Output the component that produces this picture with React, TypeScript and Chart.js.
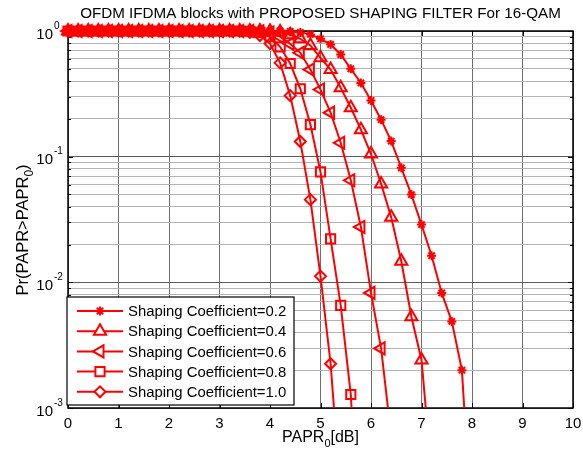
import React, { useEffect, useRef } from 'react';
import { Chart, registerables } from 'chart.js';
import { drawPoint } from 'chart.js/helpers';

Chart.register(...registerables);

// PAPR0 grid [dB]
const papr = [
  0, 0.2, 0.4, 0.6, 0.8, 1.0, 1.2, 1.4, 1.6, 1.8,
  2.0, 2.2, 2.4, 2.6, 2.8, 3.0, 3.2, 3.4, 3.6, 3.8,
  4.0, 4.2, 4.4, 4.6, 4.8, 5.0, 5.2, 5.4, 5.6, 5.8,
  6.0, 6.2, 6.4, 6.6, 6.8, 7.0, 7.2, 7.4, 7.6, 7.8, 8.0,
];

const seriesLabels = [
  'Shaping Coefficient=0.2',
  'Shaping Coefficient=0.4',
  'Shaping Coefficient=0.6',
  'Shaping Coefficient=0.8',
  'Shaping Coefficient=1.0',
];

const ccdf02 = [
  1, 1, 1, 1, 1, 1, 1, 1, 1, 1,
  1, 1, 1, 1, 1, 1, 1, 1, 1, 1,
  1, 1, 0.992, 0.975, 0.94, 0.867, 0.782, 0.65, 0.5, 0.386,
  0.28, 0.197, 0.133, 0.0815, 0.0499, 0.0288, 0.0163, 0.00824, 0.00489, 0.002, 0.0001,
];
const ccdf04 = [
  1, 1, 1, 1, 1, 1, 1, 1, 1, 1,
  1, 1, 1, 1, 1, 1, 1, 1, 1, 1,
  0.995, 0.98, 0.935, 0.867, 0.767, 0.612, 0.493, 0.353, 0.245, 0.164,
  0.105, 0.0607, 0.033, 0.0147, 0.00533, 0.00241, 0.0003,
];
const ccdf06 = [
  1, 1, 1, 1, 1, 1, 1, 1, 1, 1,
  1, 1, 1, 1, 1, 1, 1, 1, 1, 0.995,
  0.97, 0.9, 0.79, 0.67, 0.493, 0.342, 0.224, 0.129, 0.0649, 0.0276,
  0.00824, 0.00298, 0.0006,
];
const ccdf08 = [
  1, 1, 1, 1, 1, 1, 1, 1, 1, 1,
  1, 1, 1, 1, 1, 1, 1, 1, 0.995, 0.975,
  0.9, 0.748, 0.551, 0.347, 0.18, 0.0757, 0.0222, 0.00655, 0.00128, 0.00005,
];
const ccdf10 = [
  1, 1, 1, 1, 1, 1, 1, 1, 1, 1,
  1, 1, 1, 1, 1, 1, 1, 0.995, 0.975, 0.92,
  0.794, 0.558, 0.306, 0.132, 0.0455, 0.0112, 0.00225, 0.0002,
];

const xTickValues = [0, 1, 2, 3, 4, 5, 6, 7, 8, 9, 10];
const yDecades = [0.001, 0.01, 0.1, 1];
const yExponents = ['-3', '-2', '-1', '0'];
const yMantissas = [1, 2, 3, 4, 5, 6, 7, 8, 9];

const titleText = 'OFDM IFDMA blocks with PROPOSED SHAPING FILTER For 16-QAM';

const FONT = '"Liberation Sans", Arial, sans-serif';
const RED = '#ff0000';

const markerStyles = [
  { pointStyle: 'star', radius: 4.5, rotation: 0 },
  { pointStyle: 'triangle', radius: 7, rotation: 0 },
  { pointStyle: 'triangle', radius: 7, rotation: -90 },
  { pointStyle: 'rect', radius: 6.5, rotation: 0 },
  { pointStyle: 'rectRot', radius: 5.5, rotation: 0 },
];

type Part = { t: string; k?: 'sub' | 'sup' };

function drawRich(ctx: CanvasRenderingContext2D, parts: Part[], x: number, y: number, size: number, align: 'center' | 'left') {
  const small = Math.round(size * 0.7);
  const widths = parts.map((p) => {
    ctx.font = `${p.k ? small : size}px ${FONT}`;
    return ctx.measureText(p.t).width;
  });
  const total = widths.reduce((a, b) => a + b, 0);
  let cx = align === 'center' ? x - total / 2 : x;
  ctx.textAlign = 'left';
  ctx.textBaseline = 'alphabetic';
  parts.forEach((p, i) => {
    ctx.font = `${p.k ? small : size}px ${FONT}`;
    const dy = p.k === 'sub' ? size * 0.3 : p.k === 'sup' ? -size * 0.45 : 0;
    ctx.fillText(p.t, cx, y + dy);
    cx += widths[i];
  });
}

const decorPlugin = {
  id: 'decor',
  beforeDraw(chart: any) {
    const ctx = chart.ctx;
    ctx.save();
    ctx.fillStyle = '#ffffff';
    ctx.fillRect(0, 0, chart.width, chart.height);
    ctx.restore();
  },
  beforeDatasetsDraw(chart: any) {
    const ctx: CanvasRenderingContext2D = chart.ctx;
    const { left, right, top, bottom } = chart.chartArea;
    const xs = chart.scales.x;
    const ys = chart.scales.y;
    ctx.save();
    ctx.strokeStyle = '#000';
    ctx.lineWidth = 1;
    ctx.beginPath();
    xTickValues.forEach((v) => {
      const px = Math.round(xs.getPixelForValue(v)) + 0.5;
      ctx.moveTo(px, bottom);
      ctx.lineTo(px, bottom - 5);
      ctx.moveTo(px, top);
      ctx.lineTo(px, top + 5);
    });
    yDecades.forEach((d) => {
      yMantissas.forEach((m) => {
        const v = d * m;
        if (v > 1.0001) return;
        const py = Math.round(ys.getPixelForValue(v)) + 0.5;
        const len = m === 1 ? 5 : 3;
        ctx.moveTo(left, py);
        ctx.lineTo(left + len, py);
        ctx.moveTo(right, py);
        ctx.lineTo(right - len, py);
      });
    });
    ctx.stroke();
    ctx.lineWidth = 1.5;
    ctx.strokeRect(left, top, right - left, bottom - top);
    ctx.restore();
  },
  afterDatasetsDraw(chart: any) {
    const ctx: CanvasRenderingContext2D = chart.ctx;
    const xs = chart.scales.x;
    const ys = chart.scales.y;
    const { bottom } = chart.chartArea;
    ctx.save();
    // legend box
    const bx = 67, by = 297, bw = 227, bh = 108;
    ctx.fillStyle = '#fff';
    ctx.fillRect(bx, by, bw, bh);
    ctx.strokeStyle = '#000';
    ctx.lineWidth = 1.2;
    ctx.strokeRect(bx, by, bw, bh);
    chart.data.datasets.forEach((ds: any, i: number) => {
      const cy = 311 + i * 20.2;
      ctx.strokeStyle = RED;
      ctx.lineWidth = 2;
      ctx.beginPath();
      ctx.moveTo(77, cy);
      ctx.lineTo(123, cy);
      ctx.stroke();
      const ms = markerStyles[i];
      ctx.fillStyle = '#fff';
      ctx.strokeStyle = RED;
      ctx.lineWidth = 2;
      drawPoint(ctx, { pointStyle: ms.pointStyle as any, radius: ms.radius, rotation: ms.rotation, borderWidth: 2 } as any, 100, cy);
      ctx.fillStyle = '#000';
      ctx.font = `14.9px ${FONT}`;
      ctx.textAlign = 'left';
      ctx.textBaseline = 'middle';
      ctx.fillText(ds.label, 128, cy + 1);
    });
    ctx.restore();

    // texts
    ctx.save();
    ctx.fillStyle = '#000';
    ctx.font = `15px ${FONT}`;
    ctx.textAlign = 'center';
    ctx.textBaseline = 'alphabetic';
    xTickValues.forEach((v) => {
      ctx.fillText(String(v), xs.getPixelForValue(v), bottom + 20);
    });
    yDecades.forEach((d, i) => {
      const py = ys.getPixelForValue(d);
      ctx.font = `15px ${FONT}`;
      ctx.textAlign = 'right';
      ctx.fillText('10', 53, py + 7.5);
      ctx.font = `10px ${FONT}`;
      ctx.textAlign = 'left';
      ctx.fillText(yExponents[i], 54, py - 2.5);
    });
    ctx.font = `15.2px ${FONT}`;
    ctx.textAlign = 'center';
    ctx.fillText(titleText, (chart.chartArea.left + chart.chartArea.right) / 2, 18);
    drawRich(ctx, [{ t: 'PAPR' }, { t: '0', k: 'sub' }, { t: '[dB]' }], (chart.chartArea.left + chart.chartArea.right) / 2, 442, 16, 'center');
    ctx.translate(28, 230);
    ctx.rotate(-Math.PI / 2);
    drawRich(ctx, [{ t: 'Pr(PAPR>PAPR' }, { t: '0', k: 'sub' }, { t: ')' }], 0, 0, 16.5, 'center');
    ctx.restore();
  },
};

function buildDataset(label: string, values: number[], i: number) {
  const ms = markerStyles[i];
  return {
    label,
    data: values.map((v, j) => ({ x: papr[j], y: v })),
    borderColor: RED,
    backgroundColor: 'rgba(0,0,0,0)',
    borderWidth: 2,
    pointStyle: ms.pointStyle,
    pointRadius: ms.radius,
    pointRotation: ms.rotation,
    pointBorderColor: RED,
    pointBackgroundColor: 'rgba(0,0,0,0)',
    pointBorderWidth: 2,
    tension: 0,
    clip: { left: 10, top: 10, right: 10, bottom: 0 },
  };
}

export default function App() {
  const ref = useRef<HTMLCanvasElement>(null);
  useEffect(() => {
    if (!ref.current) return;
    const allSeries = [ccdf02, ccdf04, ccdf06, ccdf08, ccdf10];
    const isDecade = (v: number) => Math.abs(Math.log10(v) - Math.round(Math.log10(v))) < 1e-6;
    const chart = new Chart(ref.current, {
      type: 'line',
      data: {
        datasets: allSeries.map((s, i) => buildDataset(seriesLabels[i], s, i)) as any,
      },
      options: {
        animation: false,
        responsive: false,
        devicePixelRatio: 1,
        layout: { padding: { left: 68, right: 10, top: 31, bottom: 46 } },
        plugins: { legend: { display: false }, title: { display: false }, tooltip: { enabled: false } },
        scales: {
          x: {
            type: 'linear',
            min: 0,
            max: 10,
            afterBuildTicks: (scale: any) => {
              scale.ticks = xTickValues.map((v) => ({ value: v }));
            },
            afterFit: (scale: any) => {
              scale.height = 0;
            },
            ticks: { display: false },
            border: { display: false },
            grid: { drawTicks: false, color: '#6e6e6e', lineWidth: 1 },
          },
          y: {
            type: 'logarithmic',
            min: 0.001,
            max: 1,
            afterBuildTicks: (scale: any) => {
              const t: any[] = [];
              yDecades.forEach((d) => yMantissas.forEach((m) => {
                const v = d * m;
                if (v <= 1.0001) t.push({ value: v });
              }));
              scale.ticks = t;
            },
            afterFit: (scale: any) => {
              scale.width = 0;
            },
            ticks: { display: false },
            border: { display: false },
            grid: {
              drawTicks: false,
              lineWidth: 1,
              color: (c: any) => (c.tick && isDecade(c.tick.value) ? '#5a5a5a' : '#b4b4b4'),
            },
          },
        },
      } as any,
      plugins: [decorPlugin],
    });
    return () => chart.destroy();
  }, []);
  return (
    <div style={{ position: 'fixed', left: 0, top: 0, width: 583, height: 454, background: '#fff' }}>
      <canvas ref={ref} width={583} height={454} style={{ width: 583, height: 454, display: 'block' }} />
    </div>
  );
}
